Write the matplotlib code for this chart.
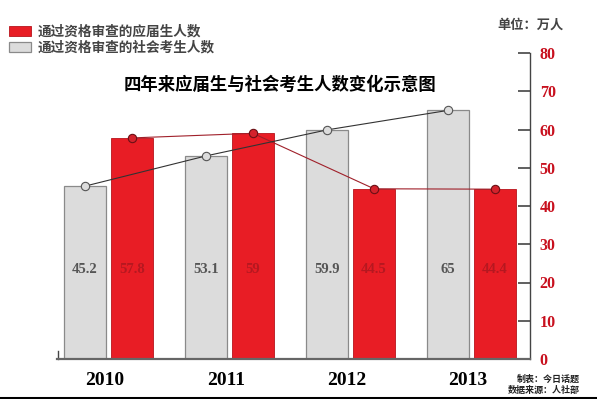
import matplotlib
matplotlib.use("Agg")
import matplotlib.pyplot as plt
import numpy as np

plt.rcParams['font.family'] = ['Noto Sans CJK SC', 'DejaVu Sans']

# data
years = ["2010", "2011", "2012", "2013"]
fresh_grads = [57.8, 59, 44.5, 44.4]      # 应届生
social_cands = [45.2, 53.1, 59.9, 65]     # 社会考生
yticks = [0, 10, 20, 30, 40, 50, 60, 70, 80]

red = "#e81d25"
grey = "#dcdcdc"
serif = "Liberation Serif"

W, H = 597, 399
fig = plt.figure(figsize=(W / 100, H / 100), dpi=100)
fig.patch.set_facecolor("white")

def fx(px):
    return px / W

def fy(py):
    return 1 - py / H

ax = fig.add_axes([fx(57), fy(359), fx(530) - fx(57), fy(53) - fy(359)])

x = np.arange(len(years))
bw = 0.347
off = 0.194
b_grey = ax.bar(x - off, social_cands, bw, color=grey, edgecolor="#8a8a8a", linewidth=0.9,
                label="通过资格审查的社会考生人数", zorder=2)
b_red = ax.bar(x + off, fresh_grads, bw, color=red, edgecolor="#b8141b", linewidth=0.6,
               label="通过资格审查的应届生人数", zorder=2)

ax.plot(x + off, fresh_grads, color="#a0202a", lw=0.8, marker="o", ms=6,
        mfc="#d3222c", mec="#6a1015", mew=0.8, zorder=4)
ax.plot(x - off, social_cands, color="#333333", lw=0.8, marker="o", ms=6,
        mfc="#dcdcdc", mec="#555555", mew=0.8, zorder=4)

for i in range(len(years)):
    ax.text(x[i] - off, 23.5, f"{social_cands[i]:g}", ha="center", va="center",
            fontfamily=serif, fontweight="bold", fontsize=10.5, color="#555555", zorder=3)
    ax.text(x[i] + off, 23.5, f"{fresh_grads[i]:g}", ha="center", va="center",
            fontfamily=serif, fontweight="bold", fontsize=10.5, color="#b51820", zorder=3)

ax.set_xlim(-0.426, 3.483)
ax.set_ylim(0, 80)
ax.set_xticks([])

for s in ["top", "left"]:
    ax.spines[s].set_visible(False)
ax.spines["bottom"].set_color("#666666")
ax.spines["bottom"].set_linewidth(1.6)
ax.spines["right"].set_color("#444444")
ax.spines["right"].set_linewidth(1.0)

ax.yaxis.tick_right()
ax.set_yticks(yticks)
ax.tick_params(axis="y", direction="in", length=9, width=1.2, color="#444444",
               pad=7, labelcolor="#c8101e", labelsize=11.5)
for lab in ax.get_yticklabels():
    lab.set_fontfamily(serif)
    lab.set_fontweight("bold")

# small stub at left end of baseline
ax.plot([-0.418, -0.418], [0, 2], color="#444444", lw=1, clip_on=False)

# year labels
for i, yr in enumerate(years):
    ax.text(x[i] - 0.03, -5.5, yr, ha="center", va="center", fontfamily=serif,
            fontweight="bold", fontsize=14, color="black")

# legend
handles = [b_red, b_grey]
leg = fig.legend(handles, [h.get_label() for h in handles], loc="upper left",
                 bbox_to_anchor=(fx(4), fy(19)), frameon=False, fontsize=9.8,
                 handlelength=1.6, handleheight=0.8, labelspacing=0.15,
                 handletextpad=0.5, borderaxespad=0)
for t in leg.get_texts():
    t.set_color("#444444")
    t.set_fontweight("bold")

fig.text(fx(280), fy(85), "四年来应届生与社会考生人数变化示意图", ha="center", va="center",
         fontsize=12.5, fontweight="bold", color="black")
fig.text(fx(530), fy(25), "单位：万人", ha="center", va="center", fontsize=9.5,
         fontweight="bold", color="#444444")
fig.text(fx(580), fy(379), "制表：今日话题", ha="right", va="center", fontsize=6.5,
         fontweight="bold", color="#222222")
fig.text(fx(580), fy(390), "数据来源：人社部", ha="right", va="center", fontsize=6.5,
         fontweight="bold", color="#222222")

# bottom rule across whole figure
fig.add_artist(plt.Line2D([0, 1], [fy(397.5), fy(397.5)], color="black", lw=2.2))

fig.savefig("out.png", dpi=100, facecolor="white")
